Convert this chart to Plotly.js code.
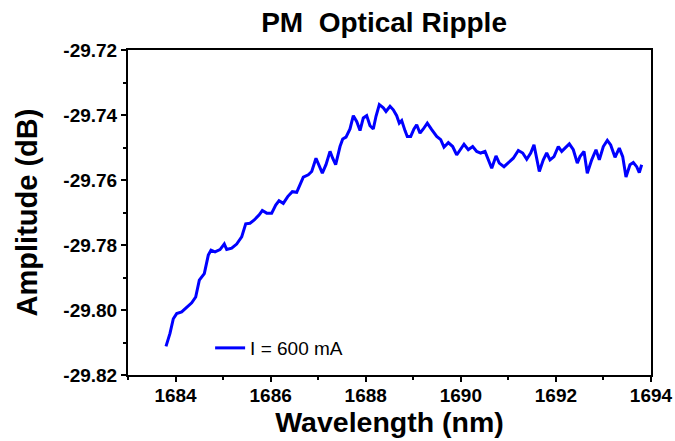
<!DOCTYPE html>
<html>
<head>
<meta charset="utf-8">
<script src="https://cdn.plot.ly/plotly-3.0.1.min.js"></script>
<style>html,body{margin:0;padding:0;background:#fff;}#chart{width:675px;height:441px;}</style>
</head>
<body>
<div id="chart"></div>
<script>
var seriesName = "I = 600 mA";
var wavelength = [
1683.799,1683.883,1683.953,1684.024,1684.129,1684.235,1684.340,1684.424,1684.500,1684.605,
1684.689,1684.746,1684.830,1684.935,1685.025,1685.076,1685.181,1685.286,1685.391,1685.476,
1685.566,1685.656,1685.755,1685.825,1685.917,1686.022,1686.107,1686.176,1686.266,1686.359,
1686.456,1686.548,1686.687,1686.792,1686.864,1686.954,1687.024,1687.087,1687.164,1687.249,
1687.305,1687.368,1687.459,1687.516,1687.585,1687.669,1687.739,1687.810,1687.880,1687.949,
1688.020,1688.090,1688.159,1688.216,1688.286,1688.370,1688.426,1688.511,1688.580,1688.651,
1688.706,1688.757,1688.826,1688.874,1688.946,1689.015,1689.072,1689.142,1689.211,1689.295,
1689.388,1689.493,1689.577,1689.646,1689.737,1689.829,1689.913,1689.983,1690.067,1690.157,
1690.250,1690.334,1690.418,1690.509,1690.557,1690.650,1690.740,1690.809,1690.908,1690.999,
1691.104,1691.209,1691.302,1691.386,1691.470,1691.539,1691.651,1691.735,1691.806,1691.876,
1691.960,1692.050,1692.122,1692.191,1692.282,1692.366,1692.450,1692.507,1692.591,1692.660,
1692.753,1692.843,1692.913,1692.997,1693.081,1693.152,1693.243,1693.333,1693.405,1693.474,
1693.558,1693.628,1693.699,1693.754,1693.804
];
var amplitude = [
-29.8112,-29.8072,-29.8027,-29.8011,-29.8006,-29.7991,-29.7978,-29.7960,-29.7908,-29.7888,
-29.7831,-29.7816,-29.7821,-29.7814,-29.7797,-29.7814,-29.7810,-29.7797,-29.7775,-29.7735,
-29.7733,-29.7723,-29.7708,-29.7694,-29.7702,-29.7702,-29.7677,-29.7664,-29.7672,-29.7651,
-29.7636,-29.7638,-29.7591,-29.7584,-29.7574,-29.7533,-29.7559,-29.7579,-29.7553,-29.7512,
-29.7533,-29.7553,-29.7497,-29.7474,-29.7468,-29.7443,-29.7402,-29.7420,-29.7448,-29.7409,
-29.7402,-29.7433,-29.7443,-29.7404,-29.7368,-29.7378,-29.7389,-29.7373,-29.7384,-29.7402,
-29.7425,-29.7417,-29.7448,-29.7466,-29.7466,-29.7443,-29.7430,-29.7456,-29.7443,-29.7425,
-29.7445,-29.7466,-29.7476,-29.7499,-29.7485,-29.7497,-29.7523,-29.7507,-29.7490,-29.7507,
-29.7497,-29.7512,-29.7517,-29.7512,-29.7528,-29.7564,-29.7526,-29.7548,-29.7559,-29.7546,
-29.7533,-29.7509,-29.7517,-29.7536,-29.7517,-29.7492,-29.7574,-29.7538,-29.7517,-29.7538,
-29.7528,-29.7497,-29.7512,-29.7502,-29.7489,-29.7507,-29.7548,-29.7528,-29.7512,-29.7579,
-29.7538,-29.7507,-29.7538,-29.7497,-29.7478,-29.7492,-29.7530,-29.7502,-29.7528,-29.7591,
-29.7553,-29.7546,-29.7559,-29.7577,-29.7553
];
var xTickVals = [1684, 1686, 1688, 1690, 1692, 1694];
var yTickVals = [-29.82, -29.80, -29.78, -29.76, -29.74, -29.72];

var FONT = "Arial, 'Liberation Sans', sans-serif";

var trace = {
  x: wavelength, y: amplitude, type: 'scatter', mode: 'lines',
  name: seriesName,
  line: {color: '#0000ff', width: 3}
};

var layout = {
  width: 675, height: 441,
  margin: {l: 128, r: 24, t: 50, b: 66},
  paper_bgcolor: '#ffffff', plot_bgcolor: '#ffffff',
  font: {family: FONT, color: '#000'},
  title: {text: 'PM  Optical Ripple', font: {family: FONT, size: 28, weight: 'bold', color: '#000'},
          x: 0.569, xanchor: 'center', xref: 'container', y: 0.95, yanchor: 'middle', yref: 'container'},
  showlegend: true,
  legend: {x: 0.157, y: 0.083, xanchor: 'left', yanchor: 'middle', bgcolor: 'rgba(0,0,0,0)',
           font: {family: FONT, size: 19, color: '#000'}},
  xaxis: {
    range: [1683, 1694], tickmode: 'array', tickvals: xTickVals, ticktext: xTickVals.map(String),
    ticks: 'outside', ticklen: 5, tickwidth: 2, tickcolor: '#000',
    minor: {dtick: 1, tick0: 1683, ticks: 'outside', ticklen: 3, tickwidth: 2, tickcolor: '#000'},
    showline: true, linewidth: 2, linecolor: '#000', mirror: true,
    showgrid: false, zeroline: false,
    ticklabelstandoff: -3,
    tickfont: {family: FONT, size: 19, weight: 'bold', color: '#000'},
    title: {text: 'Wavelength (nm)', font: {family: FONT, size: 28.5, weight: 'bold', color: '#000'}, standoff: 2},
    automargin: false
  },
  yaxis: {
    range: [-29.82, -29.72], tickmode: 'array', tickvals: yTickVals,
    ticktext: yTickVals.map(function(v){return v.toFixed(2);}),
    ticks: 'outside', ticklen: 5, tickwidth: 2, tickcolor: '#000',
    minor: {dtick: 0.01, tick0: -29.82, ticks: 'outside', ticklen: 3, tickwidth: 2, tickcolor: '#000'},
    showline: true, linewidth: 2, linecolor: '#000', mirror: true,
    showgrid: false, zeroline: false,
    tickfont: {family: FONT, size: 19, weight: 'bold', color: '#000'},
    title: {text: 'Amplitude (dB)', font: {family: FONT, size: 29, weight: 'bold', color: '#000'}, standoff: 17},
    automargin: false
  }
};

Plotly.newPlot('chart', [trace], layout, {displayModeBar: false, staticPlot: true});
</script>
</body>
</html>
